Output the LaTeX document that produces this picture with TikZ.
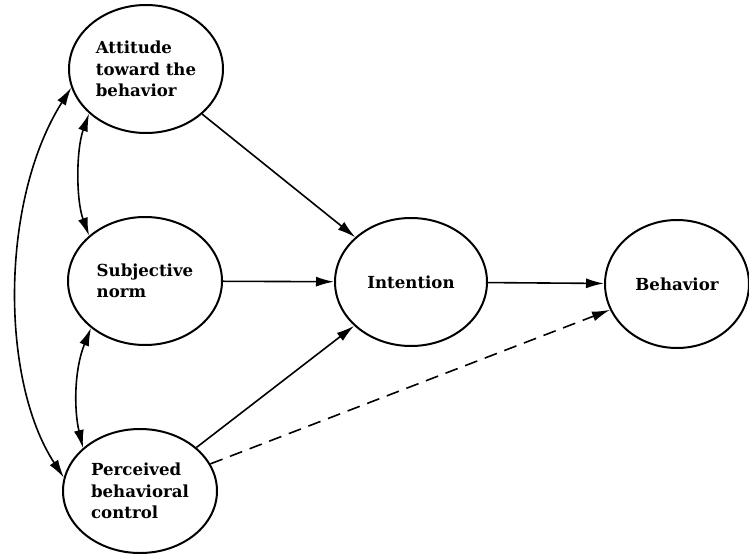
\documentclass[tikz,border=0pt]{standalone}
\usepackage{fontspec}
\setmainfont{DejaVu Serif}
\usetikzlibrary{shapes.geometric,arrows.meta}
\begin{document}
\begin{tikzpicture}[x=1pt,y=-1pt,
  state/.style={ellipse,draw,line width=2pt,inner sep=0pt,align=left,
    font=\bfseries\fontsize{16.6}{21.5}\selectfont},
  tipa/.tip={Latex[length=18pt,width=10pt]},
  conn/.style={line width=1.6pt,-tipa},
  bi/.style={line width=1.6pt,tipa-tipa}]
\useasboundingbox[fill=white] (0,0) rectangle (749,556);
\node[state,minimum width=154pt,minimum height=128pt] (att) at (146,69) {Attitude\\toward the\\behavior};
\node[state,minimum width=154pt,minimum height=128pt] (sub) at (145,281) {Subjective\\norm};
\node[state,minimum width=154pt,minimum height=124pt] (per) at (140,491) {Perceived\\behavioral\\control};
\node[state,minimum width=152pt,minimum height=128pt] (int) at (411,282) {Intention};
\node[state,minimum width=144pt,minimum height=128pt] (beh) at (677,284) {Behavior};
\draw[conn] (att) -- (int);
\draw[conn] (sub) -- (int);
\draw[conn] (per) -- (int);
\draw[conn] (int) -- (beh);
\draw[conn,dash pattern=on 13pt off 8pt] (per) -- (beh);
\draw[bi] (att.194) .. controls (0,200) and (0,380) .. (per.170);
\draw[bi] (att.218) .. controls (76,150) and (76,200) .. (sub.141);
\draw[bi] (sub.221) .. controls (74,370) and (74,410) .. (per.143);
\end{tikzpicture}
\end{document}
